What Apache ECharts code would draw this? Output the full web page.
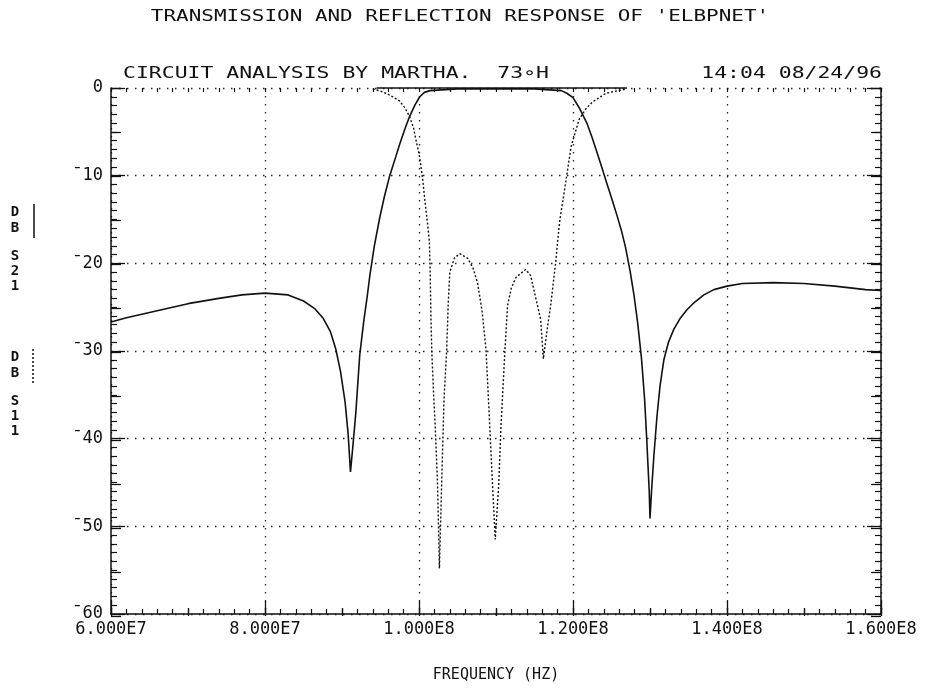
<!DOCTYPE html>
<html>
<head>
<meta charset="utf-8">
<script src="https://cdn.jsdelivr.net/npm/echarts@6/dist/echarts.min.js"></script>
<style>
html,body{margin:0;padding:0;background:#fff;}
#chart{width:937px;height:688px;}
</style>
</head>
<body>
<div id="chart"></div>
<script>
// ---- data (frequency in Hz, level in dB) ----
var s21Freq = [6.0e7,6.2e7,6.4e7,6.7e7,7.0e7,7.4e7,7.7e7,8.0e7,8.3e7,8.5e7,8.65e7,8.75e7,8.85e7,8.92e7,8.98e7,9.04e7,9.08e7,9.11e7,9.14e7,9.18e7,9.23e7,9.28e7,9.33e7,9.36e7,9.42e7,9.49e7,9.55e7,9.62e7,9.7e7,9.75e7,9.82e7,9.88e7,9.95e7,1.001e8,1.007e8,1.014e8,1.05e8,1.1e8,1.15e8,1.185e8,1.192e8,1.2e8,1.209e8,1.218e8,1.225e8,1.231e8,1.238e8,1.244e8,1.251e8,1.257e8,1.263e8,1.268e8,1.274e8,1.279e8,1.284e8,1.289e8,1.293e8,1.296e8,1.299e8,1.300e8,1.302e8,1.305e8,1.309e8,1.313e8,1.318e8,1.324e8,1.331e8,1.339e8,1.348e8,1.357e8,1.37e8,1.383e8,1.4e8,1.42e8,1.46e8,1.5e8,1.54e8,1.58e8,1.6e8];
var s21dB   = [-26.7,-26.2,-25.8,-25.2,-24.6,-24.0,-23.6,-23.4,-23.6,-24.3,-25.2,-26.2,-27.8,-29.8,-32.3,-35.8,-39.5,-43.8,-41.0,-37.0,-30.5,-26.8,-23.6,-21.5,-18.0,-14.8,-12.4,-10.0,-7.8,-6.4,-4.6,-3.2,-1.9,-1.0,-0.5,-0.3,-0.1,-0.1,-0.1,-0.3,-0.6,-1.1,-2.4,-4.0,-5.7,-7.3,-9.2,-10.9,-12.8,-14.5,-16.3,-18.1,-20.8,-23.5,-26.8,-30.9,-35.5,-40.5,-46.0,-49.1,-46.0,-42.0,-37.5,-34.0,-31.0,-29.0,-27.5,-26.3,-25.3,-24.5,-23.6,-23.0,-22.6,-22.3,-22.2,-22.3,-22.6,-23.0,-23.1];

// S11 is ~0 dB outside this range (it lies on the top edge there)
var s11Freq = [9.4e7,9.5e7,9.57e7,9.66e7,9.75e7,9.82e7,9.88e7,9.93e7,9.96e7,1.0e8,1.0025e8,1.005e8,1.007e8,1.009e8,1.011e8,1.0135e8,1.0145e8,1.0155e8,1.0165e8,1.019e8,1.021e8,1.024e8,1.0265e8,1.0295e8,1.0325e8,1.036e8,1.038e8,1.040e8,1.046e8,1.053e8,1.063e8,1.07e8,1.076e8,1.082e8,1.087e8,1.0912e8,1.0955e8,1.099e8,1.1035e8,1.1065e8,1.1117e8,1.115e8,1.12e8,1.126e8,1.1385e8,1.145e8,1.151e8,1.158e8,1.1615e8,1.1665e8,1.171e8,1.1775e8,1.180e8,1.183e8,1.191e8,1.1975e8,1.2078e8,1.2165e8,1.2252e8,1.2427e8,1.2644e8,1.27e8];
var s11dB   = [-0.1,-0.35,-0.6,-1.0,-1.5,-2.3,-3.3,-4.6,-5.9,-7.5,-8.9,-10.6,-12.3,-13.9,-15.4,-17.5,-21.0,-26.0,-29.8,-35.0,-38.5,-44.9,-54.8,-44.9,-35.5,-29.8,-24.5,-21.0,-19.4,-18.9,-19.4,-20.5,-22.2,-25.5,-29.8,-37.3,-45.3,-51.5,-45.3,-38.5,-29.8,-24.8,-22.8,-21.6,-20.7,-21.4,-23.7,-26.4,-30.9,-27.5,-24.8,-19.9,-17.5,-15.0,-10.5,-6.7,-3.6,-2.4,-1.6,-0.6,-0.2,-0.1];

var xTickLabels = ['6.000E7','8.000E7','1.000E8','1.200E8','1.400E8','1.600E8'];
var yTickLabels = ['\u00AF60','\u00AF50','\u00AF40','\u00AF30','\u00AF20','\u00AF10','0'];
var topSolidSpan = [9.45e7, 1.27e8];

var titleText = "TRANSMISSION AND REFLECTION RESPONSE OF 'ELBPNET'";
var headerLeft = "CIRCUIT ANALYSIS BY MARTHA.  73\u2218H";
var headerRight = "14:04 08/24/96";
var legendS21 = ['D','B','S','2','1'];
var legendS11 = ['D','B','S','1','1'];

function zip(a, b){ return a.map(function(v,i){ return [v, b[i]]; }); }

var MONO = "'DejaVu Sans Mono', 'Liberation Mono', monospace";
var INK = '#111';
var gridDots = {color:'#222', width:1.3, type:[1.5,6.5]};

var chart = echarts.init(document.getElementById('chart'), null, {renderer:'canvas'});

function legendTexts(letters, yStart){
  var ys = [0, 16, 44, 59, 74];
  return letters.map(function(ch, i){
    return {type:'text', x:15, y:yStart + ys[i],
      style:{text:ch, font:'bold 14px ' + MONO, fill:INK, textAlign:'center', textVerticalAlign:'middle'}};
  });
}

var graphics = [
  {type:'text', x:460, y:17, scaleX:1.31,
   style:{text:titleText, font:'16px ' + MONO, fill:INK, textAlign:'center', textVerticalAlign:'middle'}},
  {type:'text', x:123, y:74, scaleX:1.34,
   style:{text:headerLeft, font:'16px ' + MONO, fill:INK, textAlign:'left', textVerticalAlign:'middle'}},
  {type:'text', x:882, y:74, scaleX:1.34,
   style:{text:headerRight, font:'16px ' + MONO, fill:INK, textAlign:'right', textVerticalAlign:'middle'}},
  {type:'line', shape:{x1:34, y1:204, x2:34, y2:238}, style:{stroke:INK, lineWidth:1.5}},
  {type:'line', shape:{x1:33, y1:349, x2:33, y2:384}, style:{stroke:INK, lineWidth:1.5, lineDash:[2,2]}}
].concat(legendTexts(legendS21, 212)).concat(legendTexts(legendS11, 357));

var axisLineSolid = {show:true, onZero:false, lineStyle:{color:INK, width:1.5}};
var noLine = {show:false, onZero:false};
var gridBox = {left:111, right:56, top:88, bottom:72, containLabel:false};

var option = {
  animation:false,
  backgroundColor:'#fff',
  grid:[gridBox, Object.assign({}, gridBox)],
  xAxis:[
    {gridIndex:0, type:'value', position:'bottom', min:6e7, max:1.6e8, interval:2e7,
     axisLine:axisLineSolid,
     axisTick:{show:true, inside:true, length:13, lineStyle:{color:INK, width:1.3}},
     minorTick:{show:true, splitNumber:10, length:5, lineStyle:{color:INK, width:1.2}},
     splitLine:{show:true, lineStyle:gridDots},
     axisLabel:{show:true, margin:7, color:INK, fontFamily:MONO, fontSize:17,
       formatter:function(v){ return xTickLabels[Math.round((v-6e7)/2e7)]; }},
     name:'FREQUENCY (HZ)', nameLocation:'middle', nameGap:54,
     nameTextStyle:{color:INK, fontFamily:MONO, fontSize:15}},
    {gridIndex:0, type:'value', position:'top', min:6e7, max:1.6e8, interval:2e6,
     axisLine:noLine,
     axisTick:{show:true, inside:true, length:4, lineStyle:{color:INK, width:1.2}},
     splitLine:{show:false}, axisLabel:{show:false}},
    {gridIndex:1, type:'value', position:'bottom', min:6e7, max:1.6e8, interval:1e7,
     axisLine:noLine,
     axisTick:{show:true, inside:true, length:8, lineStyle:{color:INK, width:1.3}},
     splitLine:{show:false}, axisLabel:{show:false}}
  ],
  yAxis:[
    {gridIndex:0, type:'value', position:'left', min:-60, max:0, interval:10,
     axisLine:axisLineSolid,
     axisTick:{show:true, inside:true, length:14, lineStyle:{color:INK, width:1.3}},
     minorTick:{show:true, splitNumber:10, length:6, lineStyle:{color:INK, width:1.2}},
     splitLine:{show:true, lineStyle:gridDots},
     axisLabel:{show:true, margin:8, color:INK, fontFamily:MONO, fontSize:17,
       formatter:function(v){ return yTickLabels[Math.round((v+60)/10)]; }}},
    {gridIndex:0, type:'value', position:'right', min:-60, max:0, interval:10,
     axisLine:axisLineSolid,
     axisTick:{show:true, inside:true, length:14, lineStyle:{color:INK, width:1.3}},
     minorTick:{show:true, splitNumber:10, length:6, lineStyle:{color:INK, width:1.2}},
     splitLine:{show:false}, axisLabel:{show:false}},
    {gridIndex:1, type:'value', position:'left', min:-60, max:0, interval:5,
     axisLine:noLine,
     axisTick:{show:true, inside:true, length:10, lineStyle:{color:INK, width:1.3}},
     splitLine:{show:false}, axisLabel:{show:false}},
    {gridIndex:1, type:'value', position:'right', min:-60, max:0, interval:5,
     axisLine:noLine,
     axisTick:{show:true, inside:true, length:10, lineStyle:{color:INK, width:1.3}},
     splitLine:{show:false}, axisLabel:{show:false}}
  ],
  series:[
    {name:'DB S21', type:'line', xAxisIndex:0, yAxisIndex:0, data:zip(s21Freq, s21dB),
     showSymbol:false, symbol:'none', smooth:false, clip:true,
     lineStyle:{color:INK, width:1.6, type:'solid'},
     markLine:{silent:true, symbol:['none','none'], label:{show:false},
       lineStyle:{color:INK, width:1.6, type:'solid'},
       data:[[{coord:[topSolidSpan[0],0]},{coord:[topSolidSpan[1],0]}]]}},
    {name:'DB S11', type:'line', xAxisIndex:0, yAxisIndex:0, data:zip(s11Freq, s11dB),
     showSymbol:false, symbol:'none', smooth:false, clip:true,
     lineStyle:{color:INK, width:1.4, type:[2,2]}}
  ],
  graphic:graphics
};
chart.setOption(option);
</script>
</body>
</html>
